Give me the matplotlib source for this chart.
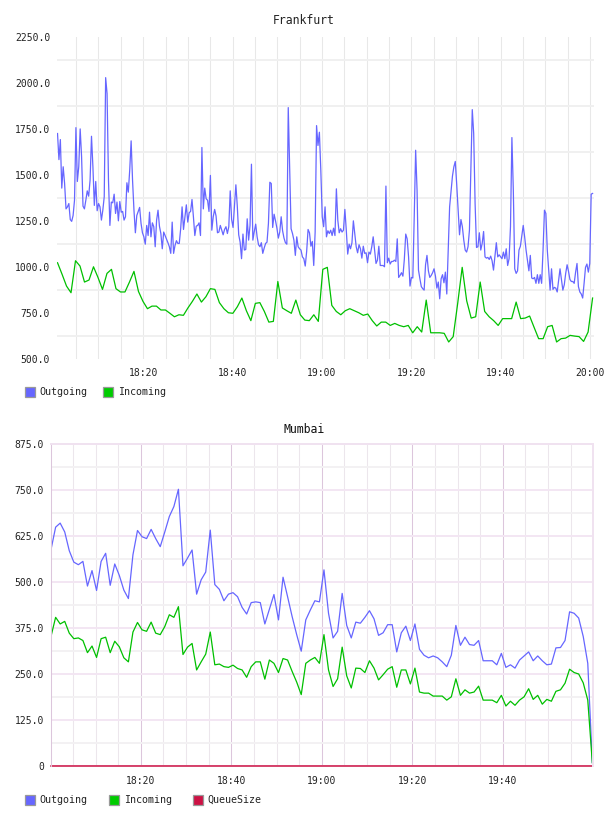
import matplotlib
matplotlib.use("Agg")
import matplotlib.pyplot as plt
import matplotlib.dates as mdates
from matplotlib.patches import Rectangle
from matplotlib.ticker import FixedLocator, FuncFormatter
import pandas as pd

plt.rcParams['font.family'] = ['DejaVu Sans Mono', 'DejaVu Sans']

# Frankfurt
fra_out = [1725,1583,1692,1428,1544,1453,1315,1326,1344,1257,1247,1279,1362,1757,1464,1544,1750,1598,1330,1315,
           1362,1413,1384,1471,1710,1544,1334,1464,1305,1344,1326,1254,1308,1381,2029,1942,1471,1225,1352,1348,
           1395,1290,1352,1250,1355,1297,1301,1254,1272,1457,1406,1526,1685,1471,1308,1185,1279,1301,1323,1236,
           1185,1163,1123,1225,1170,1297,1163,1239,1218,1109,1254,1308,1221,1181,1098,1189,1170,1152,1131,1109,
           1073,1243,1073,1116,1142,1127,1127,1207,1326,1203,1268,1337,1243,1294,1301,1366,1272,1170,1221,1225,
           1239,1170,1649,1315,1428,1370,1362,1301,1497,1199,1272,1312,1276,1185,1189,1225,1199,1174,1203,1218,
           1181,1218,1413,1257,1214,1326,1446,1330,1174,1134,1044,1178,1091,1094,1261,1145,1225,1558,1145,1192,
           1232,1163,1120,1109,1131,1073,1102,1127,1134,1236,1460,1453,1214,1286,1250,1210,1156,1189,1272,1196,
           1156,1131,1123,1866,1526,1207,1181,1145,1062,1163,1109,1098,1091,1054,1044,1004,1083,1203,1185,1112,
           1138,1007,1189,1768,1660,
           1732,1526,1272,1218,1326,1163,1196,1181,1199,1170,1210,1170,1424,1254,1185,1207,1189,1199,1312,1199,
           1069,1123,1098,1131,1250,1178,1109,1076,1120,1098,1047,1112,1073,1076,1022,1080,1069,1109,1163,1091,
           1018,1036,1112,1007,1007,1007,1000,1439,1022,1047,1015,1029,1029,1036,1029,1152,942,953,968,949,
           1040,1178,1152,1054,895,942,939,1272,1634,1417,982,935,892,881,873,1011,1062,978,942,953,
           968,989,949,884,917,826,935,957,913,971,852,1091,1326,1410,1493,1544,1573,1449,1308,1174,
           1257,1218,1145,1091,1080,1109,1199,1526,1855,1725,1344,1105,1109,1185,1091,1127,1192,1054,1047,1051,
           1040,1058,1033,982,1054,1131,1054,1065,1054,1044,1080,1044,1098,1007,1044,1218,1703,1417,989,964,
           978,1091,1112,1170,1225,1163,1091,1036,978,1062,939,935,942,910,957,910,957,910,1091,1308,
           1290,1091,982,873,989,877,888,884,863,928,989,931,873,902,964,1011,975,931,920,920,
           910,971,1018,892,863,852,830,910,997,1015,971,1018,1395,1399]

fra_in = [1022,960,895,859,1033,1004,917,928,1000,942,877,964,986,881,863,863,917,975,866,812,
          772,786,786,765,765,747,728,739,736,776,812,852,808,837,881,877,805,772,750,747,
          783,830,761,707,801,805,757,699,703,920,776,761,747,819,739,710,707,739,703,986,
          997,790,757,739,761,772,761,750,736,743,707,678,699,699,681,692,681,674,681,641,
          674,645,819,641,641,641,638,591,620,801,997,815,721,728,917,757,728,707,681,718,
          718,718,808,718,721,732,670,609,609,674,681,591,609,612,627,623,620,594,645,830]

# Mumbai
mum_out = [589,649,660,636,585,554,547,556,489,531,477,556,578,491,549,518,478,455,574,640,
           623,618,643,618,596,636,678,705,752,544,565,587,467,506,527,641,493,480,449,467,
           471,460,431,413,444,446,444,386,426,466,397,513,460,406,357,312,397,424,449,446,
           533,415,348,366,469,382,348,391,388,404,422,400,355,362,384,384,310,362,380,341,
           386,317,301,294,299,294,283,270,301,382,328,350,330,328,341,286,286,286,275,306,
           268,275,266,288,299,310,286,299,286,275,277,321,322,341,419,415,402,352,279,9]

mum_in = [353,404,386,393,361,346,348,341,308,326,295,346,350,308,339,324,294,283,364,390,
          370,366,391,361,357,379,411,404,433,303,323,333,261,283,304,364,275,277,270,268,
          274,265,261,241,270,283,283,236,288,279,254,292,288,257,228,194,279,288,295,279,
          357,261,216,237,323,245,212,266,265,254,286,266,234,248,263,270,214,261,261,223,
          266,201,198,198,190,190,190,179,188,237,192,207,198,201,217,179,179,179,172,192,
          163,176,165,179,188,210,181,192,168,181,176,203,207,225,263,254,250,226,179,9]

mum_queue = [0] * len(mum_out)

day = '2013-05-14 '
fra_out_t = pd.date_range(day + '18:00:50', day + '20:00:35', periods=len(fra_out))
fra_in_t = pd.date_range(day + '18:00:50', day + '20:00:35', periods=len(fra_in))
mum_t = pd.date_range(day + '18:00:10', day + '19:59:48', periods=len(mum_out))

c_out, c_in, c_q = '#6666ff', '#00c000', '#cc1144'
W, H = 608, 816


def box(l, t, r, b):
    return [l / W, 1 - b / H, (r - l) / W, (b - t) / H]


fig = plt.figure(figsize=(6.08, 8.16), dpi=100)

# ---- Frankfurt
ax1 = fig.add_axes(box(57.3, 37, 594, 358.7))
ax1.plot(fra_out_t, fra_out, color=c_out, lw=0.9)
ax1.plot(fra_in_t, fra_in, color=c_in, lw=0.9)
ax1.set_xlim(pd.Timestamp(day + '18:00:47'), pd.Timestamp(day + '20:00:54'))
ax1.set_ylim(500, 2250)
ax1.set_yticks(range(500, 2251, 250))
ax1.yaxis.set_minor_locator(FixedLocator(range(625, 2250, 250)))
ax1.yaxis.set_major_formatter(FuncFormatter(lambda v, p: '%.1f' % v))
ax1.xaxis.set_major_locator(mdates.MinuteLocator(byminute=[0, 20, 40]))
ax1.xaxis.set_minor_locator(mdates.MinuteLocator(byminute=range(0, 60, 5)))
ax1.xaxis.set_major_formatter(mdates.DateFormatter('%H:%M'))
ax1.grid(which='both', axis='x', color='#e8e8e8', lw=0.75)
ax1.grid(which='minor', axis='y', color='#f0f0f0', lw=1.4)
ax1.set_axisbelow(True)
for s in ax1.spines.values():
    s.set_visible(False)
ax1.tick_params(which='both', length=0, labelsize=7, colors='#222222')
ax1.tick_params(axis='x', pad=6.5)
ax1.tick_params(axis='y', pad=5.2)

# ---- Mumbai
ax2 = fig.add_axes(box(50.7, 444, 593, 766))
ax2.plot(mum_t, mum_out, color=c_out, lw=0.9)
ax2.plot(mum_t, mum_in, color=c_in, lw=0.9)
ax2.plot(mum_t, mum_queue, color=c_q, lw=1.1, clip_on=False)
ax2.set_xlim(pd.Timestamp(day + '18:00:05'), pd.Timestamp(day + '19:59:57'))
ax2.set_ylim(0, 875)
ax2.set_yticks(range(0, 876, 125))
ax2.yaxis.set_minor_locator(FixedLocator([62.5 + 125 * k for k in range(7)]))
ax2.yaxis.set_major_formatter(FuncFormatter(lambda v, p: '0' if v == 0 else '%.1f' % v))
ax2.xaxis.set_major_locator(mdates.MinuteLocator(byminute=[0, 20, 40]))
ax2.xaxis.set_minor_locator(mdates.MinuteLocator(byminute=range(0, 60, 5)))
ax2.xaxis.set_major_formatter(mdates.DateFormatter('%H:%M'))
ax2.grid(which='major', axis='x', color='#dcc6dc', lw=0.75)
ax2.grid(which='minor', axis='x', color='#ece6ec', lw=0.75)
ax2.grid(which='major', axis='y', color='#f3e6f3', lw=1.4)
ax2.grid(which='minor', axis='y', color='#f3f1f3', lw=1.4)
ax2.set_axisbelow(True)
ax2.spines['bottom'].set_visible(False)
ax2.spines['left'].set_color('#dcc6dc')
ax2.spines['left'].set_linewidth(0.75)
for k in ('top', 'right'):
    ax2.spines[k].set_color('#f0e2f0')
    ax2.spines[k].set_linewidth(1.4)
ax2.tick_params(which='both', length=0, labelsize=7, colors='#222222')
ax2.tick_params(axis='x', pad=7.5)
ax2.tick_params(axis='y', pad=5.0)

# ---- titles
fig.text(0.5, 1 - 20.5 / H, 'Frankfurt', ha='center', va='center', fontsize=8.3, color='#222222')
fig.text(0.5, 1 - 429.5 / H, 'Mumbai', ha='center', va='center', fontsize=8.3, color='#111111')


# ---- legends
def legend_item(x_box, x_txt, y, color, label):
    fig.add_artist(Rectangle((x_box / W, 1 - (y + 5) / H), 10 / W, 10 / H,
                             transform=fig.transFigure, facecolor=color,
                             edgecolor='#999999', lw=0.9))
    fig.text(x_txt / W, 1 - y / H, label, ha='left', va='center', fontsize=7.2, color='#222222')


legend_item(24.5, 39, 392, c_out, 'Outgoing')
legend_item(102.5, 118, 392, '#00cc00', 'Incoming')
legend_item(24.5, 39, 800, c_out, 'Outgoing')
legend_item(109, 124, 800, '#00cc00', 'Incoming')
legend_item(193, 207, 800, c_q, 'QueueSize')

fig.savefig('out.png', dpi=100)
